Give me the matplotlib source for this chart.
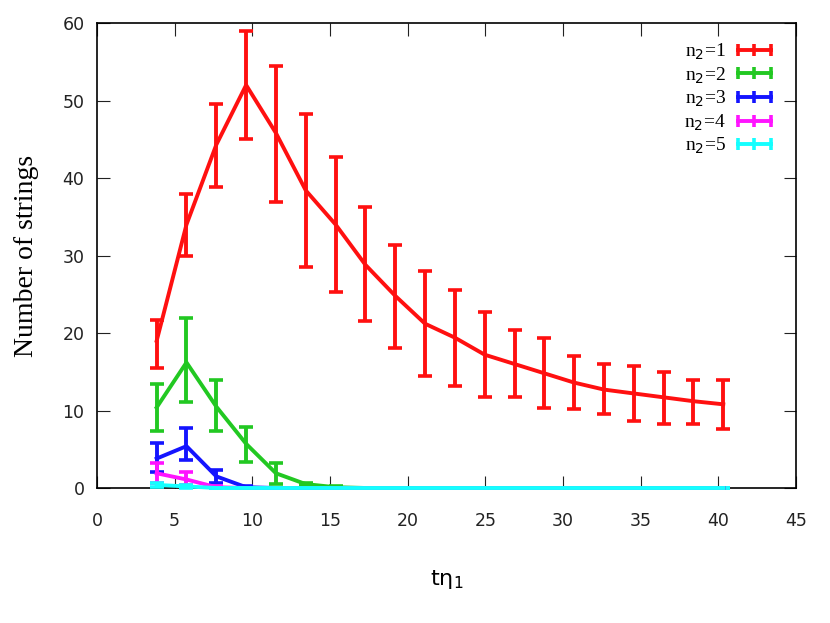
import matplotlib
matplotlib.use("Agg")
import matplotlib.pyplot as plt
from matplotlib.lines import Line2D

x = [3.84, 5.76, 7.68, 9.6, 11.52, 13.44, 15.36, 17.28, 19.2, 21.12,
     23.04, 24.96, 26.88, 28.8, 30.72, 32.64, 34.56, 36.48, 38.4, 40.32]

n1 = [19.0, 34.0, 44.3, 52.0, 45.8, 38.4, 34.0, 28.8, 24.8, 21.2,
      19.4, 17.2, 16.0, 14.8, 13.6, 12.7, 12.2, 11.7, 11.2, 10.8]
n1_lo = [15.5, 30.0, 38.9, 45.0, 36.9, 28.5, 25.3, 21.5, 18.1, 14.4,
         13.2, 11.7, 11.7, 10.3, 10.2, 9.5, 8.7, 8.2, 8.3, 7.6]
n1_hi = [21.7, 37.9, 49.6, 59.0, 54.5, 48.3, 42.7, 36.2, 31.4, 28.0,
         25.6, 22.7, 20.4, 19.4, 17.0, 16.0, 15.7, 15.0, 14.0, 14.0]

n2 = [10.4, 16.2, 10.5, 5.7, 1.9, 0.5, 0.1, 0, 0, 0,
      0, 0, 0, 0, 0, 0, 0, 0, 0, 0]
n2_lo = [7.4, 11.1, 7.4, 3.3, 0.5, 0.2, 0.0, 0, 0, 0,
         0, 0, 0, 0, 0, 0, 0, 0, 0, 0]
n2_hi = [13.4, 21.9, 13.9, 7.9, 3.2, 0.7, 0.2, 0, 0, 0,
         0, 0, 0, 0, 0, 0, 0, 0, 0, 0]

n3 = [3.8, 5.4, 1.5, 0.1, 0, 0, 0, 0, 0, 0,
      0, 0, 0, 0, 0, 0, 0, 0, 0, 0]
n3_lo = [2.0, 3.6, 0.6, 0.0, 0, 0, 0, 0, 0, 0,
         0, 0, 0, 0, 0, 0, 0, 0, 0, 0]
n3_hi = [5.8, 7.7, 2.3, 0.2, 0, 0, 0, 0, 0, 0,
         0, 0, 0, 0, 0, 0, 0, 0, 0, 0]

n4 = [1.9, 1.1, 0.1, 0, 0, 0, 0, 0, 0, 0,
      0, 0, 0, 0, 0, 0, 0, 0, 0, 0]
n4_lo = [0.6, 0.4, 0.0, 0, 0, 0, 0, 0, 0, 0,
         0, 0, 0, 0, 0, 0, 0, 0, 0, 0]
n4_hi = [3.2, 2.0, 0.2, 0, 0, 0, 0, 0, 0, 0,
         0, 0, 0, 0, 0, 0, 0, 0, 0, 0]

n5 = [0.4, 0.2, 0, 0, 0, 0, 0, 0, 0, 0,
      0, 0, 0, 0, 0, 0, 0, 0, 0, 0]
n5_lo = [0.1, 0.0, 0, 0, 0, 0, 0, 0, 0, 0,
         0, 0, 0, 0, 0, 0, 0, 0, 0, 0]
n5_hi = [0.7, 0.4, 0, 0, 0, 0, 0, 0, 0, 0,
         0, 0, 0, 0, 0, 0, 0, 0, 0, 0]

labels = ["n$_2$=1", "n$_2$=2", "n$_2$=3", "n$_2$=4", "n$_2$=5"]
colors = ["#ff1010", "#22c822", "#1414ff", "#ff14ff", "#14ffff"]
xticks = [0, 5, 10, 15, 20, 25, 30, 35, 40, 45]
yticks = [0, 10, 20, 30, 40, 50, 60]

series = [(n1, n1_lo, n1_hi), (n2, n2_lo, n2_hi), (n3, n3_lo, n3_hi),
          (n4, n4_lo, n4_hi), (n5, n5_lo, n5_hi)]

fig = plt.figure(figsize=(8.3, 6.23), dpi=100)
ax = fig.add_axes([0.1169, 0.2167, 0.8421, 0.7463])

handles = []
for (y, lo, hi), c, lab in zip(series, colors, labels):
    err = [[yi - l for yi, l in zip(y, lo)], [h - yi for yi, h in zip(y, hi)]]
    ax.errorbar(x, y, yerr=err, color=c, lw=2.8, elinewidth=2.8,
                capsize=4.8, capthick=2.6, clip_on=False, zorder=3)
    handles.append(Line2D([0], [0], color=c, lw=2.8, marker="|",
                          markersize=9, markeredgewidth=2.6))

ax.set_xlim(0, 45)
ax.set_ylim(0, 60)
ax.set_xticks(xticks)
ax.set_yticks(yticks)
ax.tick_params(direction="in", length=9, width=0.8, top=True, right=True,
               labelsize=12.5, colors="#222222")
ax.tick_params(axis="x", pad=17)
ax.tick_params(axis="y", pad=9)
for s in ax.spines.values():
    s.set_linewidth(1.2)

ax.set_ylabel("Number of strings", family="Liberation Serif", fontsize=20,
              labelpad=17)
ax.set_xlabel(r"t$\mathregular{\eta_1}$", fontsize=16, labelpad=28)

leg = ax.legend(handles, labels, loc="upper right", frameon=False,
                markerfirst=False, numpoints=3, handlelength=2.3,
                prop={"family": "Liberation Serif", "size": 14},
                labelspacing=0.17, borderaxespad=0.0, handletextpad=0.3,
                borderpad=0.0, bbox_to_anchor=(0.972, 0.96))

fig.savefig("out.png", dpi=100)
